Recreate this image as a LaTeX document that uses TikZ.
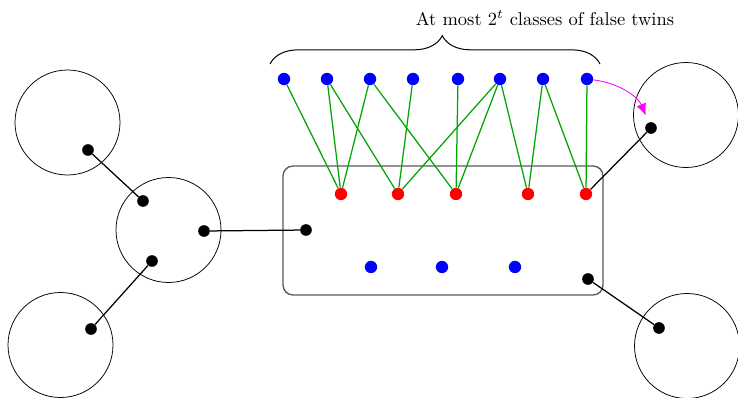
\documentclass[tikz,border=0pt]{standalone}
\usetikzlibrary{decorations.pathreplacing,arrows.meta}
\definecolor{mag}{RGB}{255,0,255}
\begin{document}
\begin{tikzpicture}[x=0.6pt,y=-0.6pt,
  blob/.style={circle,draw,line width=0.45pt,inner sep=0pt,minimum size=63pt},
  bdot/.style={circle,fill=black,inner sep=0pt,minimum size=7pt},
  udot/.style={circle,fill=blue,inner sep=0pt,minimum size=7.4pt},
  rdot/.style={circle,fill=red,inner sep=0pt,minimum size=7.4pt},
  link/.style={line width=0.75pt},
  tw/.style={line width=0.75pt,green!65!black}]
\useasboundingbox (0,0) rectangle (738,398);
% big circles
\node[blob] (c1) at (67.5,122.5) {};
\node[blob] (c2) at (168.5,230) {};
\node[blob] (c3) at (60.5,345) {};
\node[blob] (c4) at (686,115) {};
\node[blob] (c5) at (687,346) {};
% rectangle
\node[draw=black!65,line width=0.8pt,rounded corners=6pt,minimum width=192pt,minimum height=77.4pt,inner sep=0pt] (box) at (443,230.5) {};
% black dots
\node[bdot] (d1) at (88,150) {};
\node[bdot] (d2) at (143,201) {};
\node[bdot] (d3) at (204,231) {};
\node[bdot] (d4) at (152,261) {};
\node[bdot] (d5) at (91,329) {};
\node[bdot] (d6) at (306,230) {};
\node[bdot] (d7) at (651,128) {};
\node[bdot] (d8) at (588,279) {};
\node[bdot] (d9) at (659,328) {};
% top blue dots
\foreach \i/\x in {1/284,2/327,3/370,4/413,5/458,6/500,7/543,8/587}
  \node[udot] (b\i) at (\x,79) {};
% red dots
\foreach \i/\x in {1/341,2/398,3/456,4/528,5/586}
  \node[rdot] (r\i) at (\x,194) {};
% inner blue dots
\node[udot] (u1) at (371,267) {};
\node[udot] (u2) at (442,267) {};
\node[udot] (u3) at (515,267) {};
% green edges
\foreach \a/\b in {1/1,2/1,2/2,3/1,3/3,4/2,5/3,6/2,6/3,6/4,7/4,7/5,8/5}
  \draw[tw] (b\a) -- (r\b);
% black links
\draw[link] (d1) -- (d2);
\draw[link] (d3) -- (d6);
\draw[link] (d4) -- (d5);
\draw[link] (r5) -- (d7);
\draw[link] (d8) -- (d9);
% magenta arrow
\draw[mag,line width=0.5pt,-{Latex[length=7pt,width=6pt]},shorten >=4.5pt] (b8) to[bend left=30] (d7);
% brace
\coordinate (bl) at (270,64);
\coordinate (br) at (600,64);
\draw[line width=0.6pt,decorate,decoration={brace,amplitude=17pt,aspect=0.522}] (bl) -- (br);
\node[scale=1.11] (lab) at (545,18) {At most $2^t$ classes of false twins};
\end{tikzpicture}
\end{document}
